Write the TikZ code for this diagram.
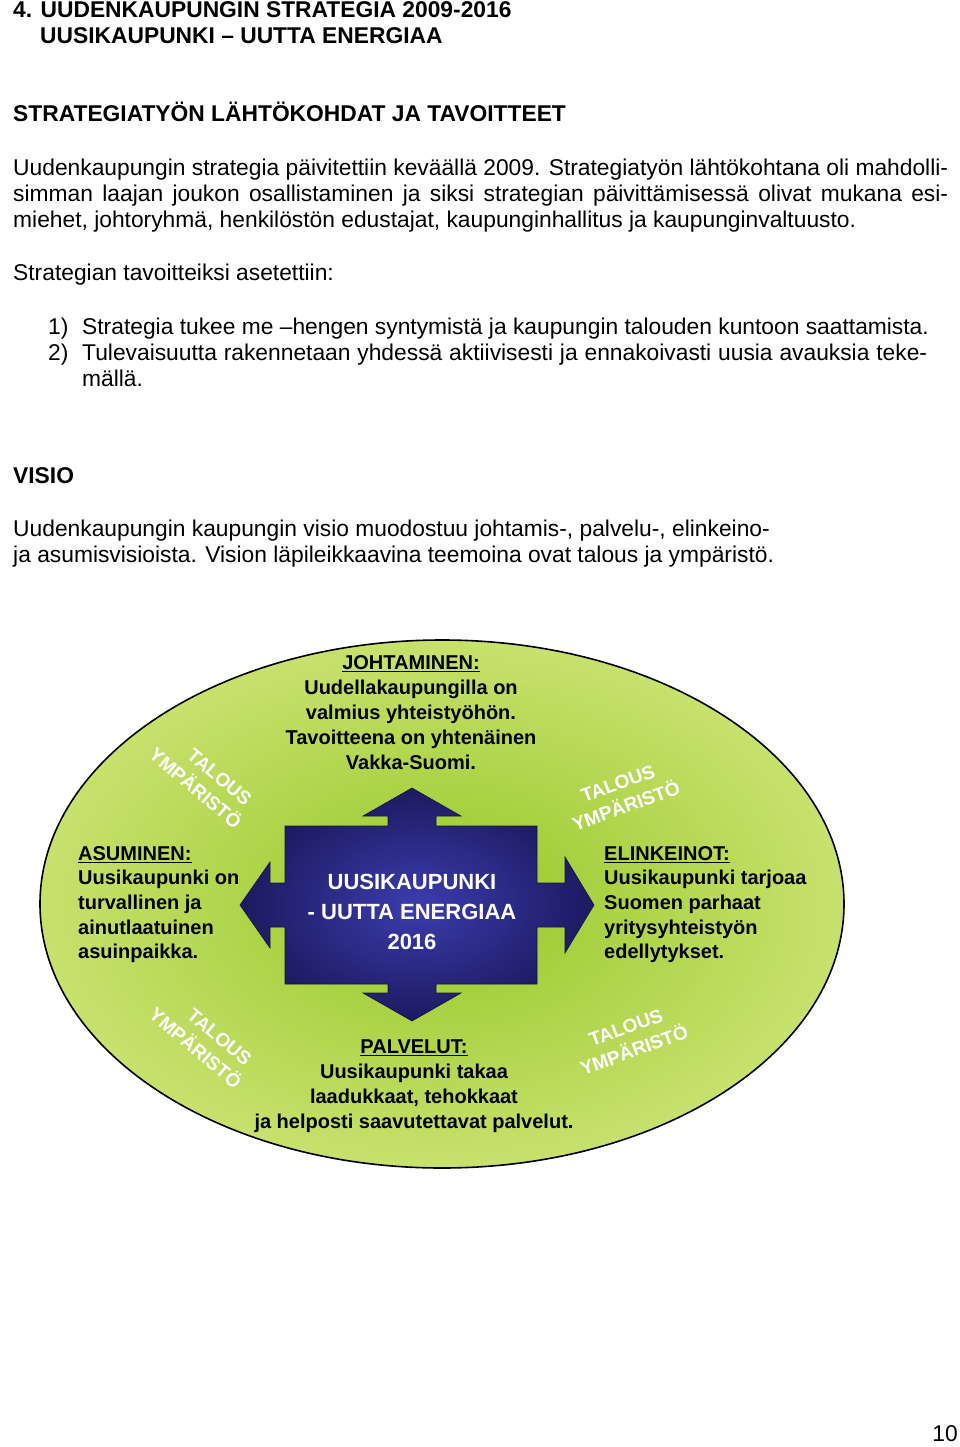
\documentclass[tikz,border=0pt]{standalone}
\usepackage{fontspec}
\setmainfont{Liberation Sans}
\begin{document}
\begin{tikzpicture}[x=1pt,y=-1pt,
  body/.style={anchor=base west,inner sep=0pt,font=\fontsize{22.8}{26}\selectfont},
  head/.style={body,font=\fontsize{22.8}{26}\selectfont\bfseries},
  dtext/.style={align=center,inner sep=0pt,font=\fontsize{20}{25}\selectfont\bfseries},
  dleft/.style={align=left,anchor=north west,inner sep=0pt,font=\fontsize{20}{24.7}\selectfont\bfseries},
  wtext/.style={align=center,inner sep=0pt,text=white,font=\fontsize{19}{24}\selectfont\bfseries}]
\useasboundingbox (0,0) rectangle (960,1447);
\fill[white] (0,0) rectangle (960,1447);
% text
\node[head] (h1) at (13,18) {4. UUDENKAUPUNGIN STRATEGIA 2009-2016};
\node[head] (h2) at (40,44) {UUSIKAUPUNKI – UUTTA ENERGIAA};
\node[head] (h3) at (13,122) {STRATEGIATYÖN LÄHTÖKOHDAT JA TAVOITTEET};
\node[body] (p1) at (13,176) {\makebox[935pt][s]{Uudenkaupungin strategia päivitettiin keväällä 2009. Strategiatyön lähtökohtana oli mahdolli-}};
\node[body] (p2) at (13,202) {\makebox[935pt][s]{simman laajan joukon osallistaminen ja siksi strategian päivittämisessä olivat mukana esi-}};
\node[body] (p3) at (13,228) {miehet, johtoryhmä, henkilöstön edustajat, kaupunginhallitus ja kaupunginvaltuusto.};
\node[body] (p4) at (13,280) {Strategian tavoitteiksi asetettiin:};
\node[body] (n1) at (48,334) {1)};
\node[body] (l1) at (82,334) {Strategia tukee me –hengen syntymistä ja kaupungin talouden kuntoon saattamista.};
\node[body] (n2) at (48,360) {2)};
\node[body] (l2) at (82,360) {\makebox[845pt][s]{Tulevaisuutta rakennetaan yhdessä aktiivisesti ja ennakoivasti uusia avauksia teke-}};
\node[body] (l3) at (82,386) {mällä.};
\node[head] (v) at (13,483) {VISIO};
\node[body] (v1) at (13,536) {Uudenkaupungin kaupungin visio muodostuu johtamis-, palvelu-, elinkeino-};
\node[body] (v2) at (13,562) {ja asumisvisioista. Vision läpileikkaavina teemoina ovat talous ja ympäristö.};
\node[body,anchor=base east] (pg) at (958,1441) {10};
% ellipse
\shade[inner color={rgb,255:red,150;green,200;blue,40},outer color={rgb,255:red,200;green,225;blue,110}] (442,904) ellipse (402 and 264);
\draw[line width=1.6pt] (442,904) ellipse (402 and 264);
% cross shape
\shade[inner color={rgb,255:red,60;green,60;blue,175},outer color={rgb,255:red,28;green,26;blue,95},draw={rgb,255:red,20;green,20;blue,70},line width=0.6pt]
 (412,788) -- (461,816) -- (436,816) -- (436,826) -- (537,826) -- (537,883) -- (565,883) -- (565,857) -- (594,905)
 -- (565,953) -- (565,927) -- (537,927) -- (537,984) -- (436,984) -- (436,993) -- (461,993) -- (412,1021)
 -- (363,993) -- (388,993) -- (388,984) -- (285,984) -- (285,927) -- (270,927) -- (270,948) -- (240,905)
 -- (270,862) -- (270,883) -- (285,883) -- (285,826) -- (388,826) -- (388,816) -- (363,816) -- cycle;
% center text
\node[wtext,font=\fontsize{22}{30}\selectfont\bfseries] (c) at (412,912) {UUSIKAUPUNKI\\- UUTTA ENERGIAA\\2016};
% diagram texts
\node[dtext] (jo) at (411,713) {\underline{JOHTAMINEN:}\\Uudellakaupungilla on\\valmius yhteistyöhön.\\Tavoitteena on yhtenäinen\\Vakka-Suomi.};
\node[dleft] (as) at (78,846) {\underline{ASUMINEN:}\\Uusikaupunki on\\turvallinen ja\\ainutlaatuinen\\asuinpaikka.};
\node[dleft] (el) at (604,846) {\underline{ELINKEINOT:}\\Uusikaupunki tarjoaa\\Suomen parhaat\\yritysyhteistyön\\edellytykset.};
\node[dtext] (pa) at (414,1086) {\underline{PALVELUT:}\\Uusikaupunki takaa\\laadukkaat, tehokkaat\\ja helposti saavutettavat palvelut.};
% TALOUS YMPÄRISTÖ
\node[wtext,rotate=-40] (t1) at (203,779) {\hspace*{1.2em}TALOUS\\YMPÄRISTÖ};
\node[wtext,rotate=-40] (t2) at (203,1039) {\hspace*{1.2em}TALOUS\\YMPÄRISTÖ};
\node[wtext,rotate=20] (t3) at (622,795) {TALOUS\\YMPÄRISTÖ};
\node[wtext,rotate=20] (t4) at (630,1039) {TALOUS\\YMPÄRISTÖ};
\end{tikzpicture}
\end{document}
